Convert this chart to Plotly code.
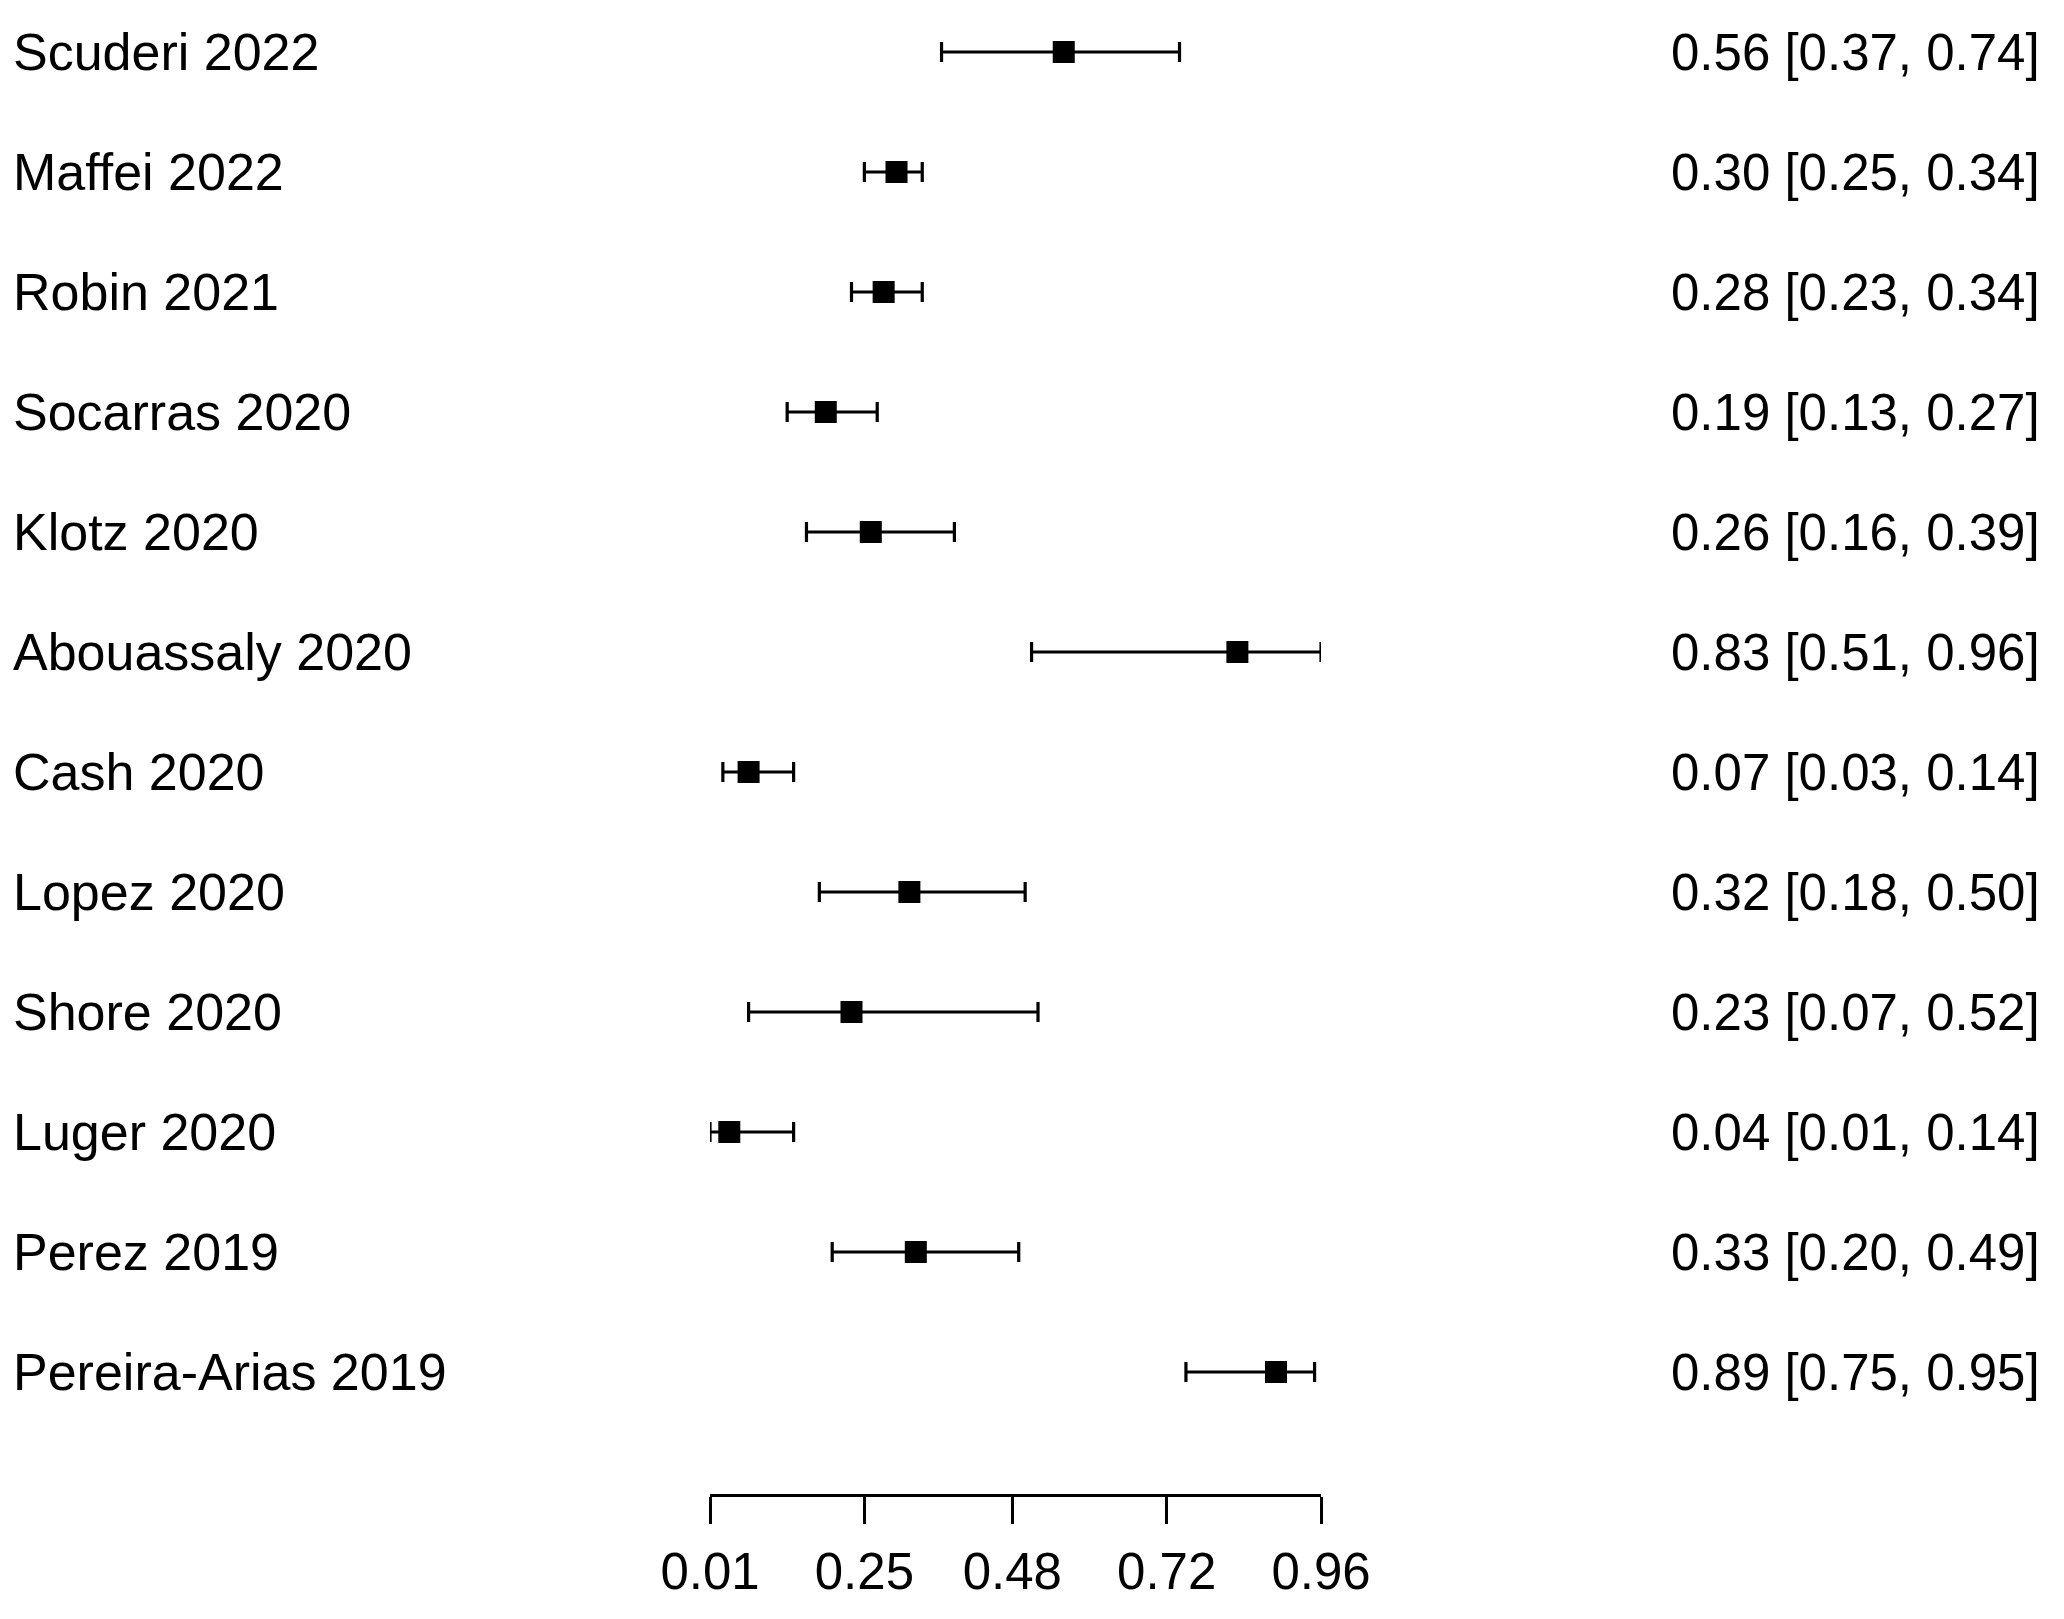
import plotly.graph_objects as go

studies = ["Scuderi 2022", "Maffei 2022", "Robin 2021", "Socarras 2020", "Klotz 2020",
           "Abouassaly 2020", "Cash 2020", "Lopez 2020", "Shore 2020", "Luger 2020",
           "Perez 2019", "Pereira-Arias 2019"]
est = [0.56, 0.30, 0.28, 0.19, 0.26, 0.83, 0.07, 0.32, 0.23, 0.04, 0.33, 0.89]
lower = [0.37, 0.25, 0.23, 0.13, 0.16, 0.51, 0.03, 0.18, 0.07, 0.01, 0.20, 0.75]
upper = [0.74, 0.34, 0.34, 0.27, 0.39, 0.96, 0.14, 0.50, 0.52, 0.14, 0.49, 0.95]
tick_vals = [0.01, 0.25, 0.48, 0.72, 0.96]
tick_text = ["0.01", "0.25", "0.48", "0.72", "0.96"]

W, H = 2064, 1619
FONT = "Liberation Sans, Arial, sans-serif"

n = len(studies)
rows = list(range(n, 0, -1))  # top row = n

# pixel layout
row_top_px, row_bot_px = 44, 1364
axis_px = 1486
spacing = (row_bot_px - row_top_px) / (n - 1)
y_bottom = 1 - (axis_px - row_bot_px) / spacing
y_top = n + row_top_px / spacing

x_left_px, x_right_px = 702, 1313

fig = go.Figure()
fig.add_trace(go.Scatter(
    x=est, y=rows, mode="markers",
    marker=dict(symbol="square", size=22, color="black", line=dict(width=0)),
    error_x=dict(type="data", symmetric=False,
                 array=[u - e for u, e in zip(upper, est)],
                 arrayminus=[e - l for e, l in zip(est, lower)],
                 color="black", thickness=3.2, width=10),
    cliponaxis=False, showlegend=False, hoverinfo="skip",
))

annotations = []
for s, r, e, l, u in zip(studies, rows, est, lower, upper):
    annotations.append(dict(x=3 / W, xref="paper", y=r, yref="y", text=s,
                            showarrow=False, xanchor="left", yanchor="middle",
                            font=dict(family=FONT, size=52, color="black")))
    annotations.append(dict(x=2034 / W, xref="paper", y=r, yref="y",
                            text=f"{e:.2f} [{l:.2f}, {u:.2f}]",
                            showarrow=False, xanchor="right", yanchor="middle",
                            font=dict(family=FONT, size=51, color="black")))

fig.update_layout(
    width=W, height=H,
    margin=dict(l=0, r=0, t=0, b=H - axis_px, pad=0),
    plot_bgcolor="white", paper_bgcolor="white",
    xaxis=dict(domain=[x_left_px / W, x_right_px / W], range=[0.01, 0.96],
               showgrid=False, zeroline=False, showline=True, linecolor="black",
               linewidth=3.2, ticks="outside", ticklen=27, tickwidth=3.2,
               tickcolor="black", tickvals=tick_vals, ticktext=tick_text,
               tickfont=dict(family=FONT, size=51, color="black"),
               ticklabelstandoff=4,
               automargin=False),
    yaxis=dict(range=[y_bottom, y_top], visible=False, automargin=False),
    annotations=annotations,
)

fig.write_html("out.html")
